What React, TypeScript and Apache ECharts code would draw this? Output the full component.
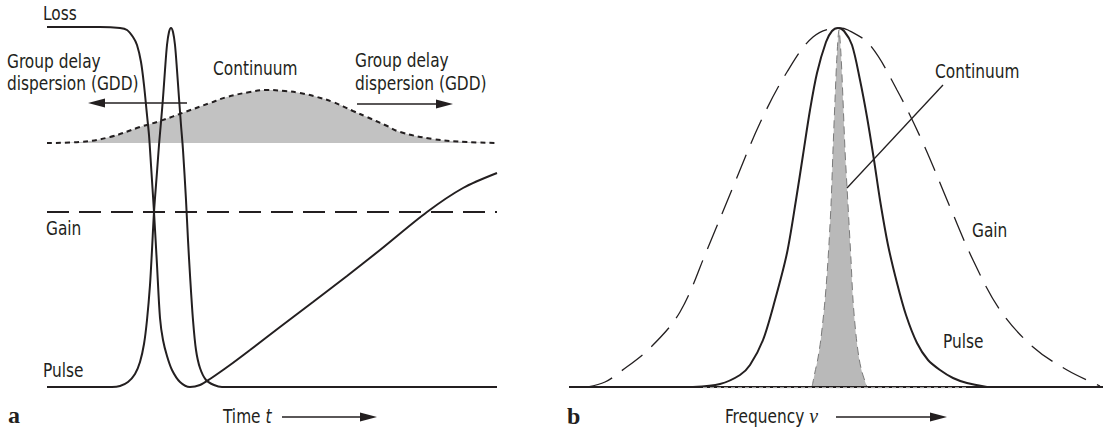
import React, { useEffect, useRef } from "react";
import * as echarts from "echarts";

// ---------- Panel a: time domain (x: time, arb. units; y: amplitude, arb. units) ----------
const lossA: number[][] = [
  [0, 360], [53, 360], [73, 359], [80, 357], [86, 350], [90, 342], [94, 325], [97, 302],
  [100, 272], [102, 252], [104, 222], [107, 175], [110, 122], [113, 69], [116, 47], [120, 31],
  [125, 17], [133, 5], [143, 0], [153, 2], [163, 8], [183, 22], [203, 37], [233, 60],
  [266, 85], [300, 111], [333, 137], [380, 175], [416, 199], [450, 214],
];
const pulseA: number[][] = [
  [0, 0], [65, 0], [73, 1], [81, 5], [88, 13], [93, 25], [97, 43], [100, 67], [103, 102],
  [105, 137], [107, 175], [110, 215], [112, 242], [114, 265], [116, 289], [118, 317],
  [120, 342], [122, 355], [124, 359], [126, 355], [128, 342], [130, 317], [132, 289],
  [134, 262], [136, 237], [139, 187], [141, 147], [143, 112], [146, 67], [149, 37],
  [153, 19], [159, 7], [167, 2], [175, 0], [450, 0],
];
const gainA: number[][] = [[0, 175], [450, 175]];
const continuumBaseA = 244;
const continuumA: number[][] = [
  [0, 244], [33, 245], [63, 250], [93, 260], [113, 266], [138, 275], [163, 284], [180, 290],
  [203, 295], [220, 297], [238, 296], [253, 294], [270, 290], [286, 285], [306, 276],
  [320, 270], [338, 262], [353, 255], [386, 248], [420, 245], [450, 244],
];
// [x1, y1, x2, y2, hasHead]
const arrowsA: number[][] = [
  [140, 284, 41, 284, 1],
  [310, 283, 406, 283, 1],
  [235, -30, 330, -30, 1],
];

// ---------- Panel b: frequency domain ----------
const baselineB: number[][] = [[0, 0], [534, 0]];
const hatchB: number[][] = [[134, -0.8], [399, -0.8]];
const gainB: number[][] = [
  [19, 0], [36, 5], [51, 15], [81, 39], [111, 75], [138, 137], [164, 200], [191, 264],
  [218, 315], [244, 350], [269, 359], [279, 357], [301, 342], [328, 297], [354, 244],
  [381, 180], [404, 127], [431, 77], [464, 40], [498, 17], [531, 1],
];
const pulseB: number[][] = [
  [124, 0], [151, 3], [171, 12], [181, 22], [194, 47], [206, 87], [218, 134], [227, 187],
  [234, 232], [241, 277], [248, 314], [257, 345], [263, 356], [269, 359], [275, 356],
  [283, 342], [291, 307], [298, 270], [305, 227], [311, 187], [319, 142], [328, 104],
  [337, 72], [348, 44], [359, 27], [371, 17], [384, 9], [398, 4], [418, 0],
];
const continuumB: number[][] = [
  [243, 0], [246, 15], [249, 29], [252, 49], [256, 87], [259, 127], [262, 182], [264, 237],
  [266, 287], [268, 332], [270, 357], [272, 332], [274, 287], [276, 237], [279, 182],
  [282, 127], [284, 87], [287, 52], [290, 29], [293, 15], [298, 0],
];
const arrowsB: number[][] = [
  [374, 302, 278, 199, 0],
  [267, -30, 378, -30, 1],
];

const INK = "#231f20";
const FONT = "'DejaVu Sans Condensed', Roboto, sans-serif";
const SERIF = "'Liberation Serif', 'DejaVu Serif', serif";

const renderArrow = (_params: any, api: any) => {
  const a = api.coord([api.value(0), api.value(1)]);
  const b = api.coord([api.value(2), api.value(3)]);
  const head = api.value(4);
  const dx = b[0] - a[0];
  const dy = b[1] - a[1];
  const len = Math.hypot(dx, dy) || 1;
  const ux = dx / len;
  const uy = dy / len;
  const L = 17;
  const W = 4.5;
  const children: any[] = [];
  const ex = head ? b[0] - ux * L * 0.7 : b[0];
  const ey = head ? b[1] - uy * L * 0.7 : b[1];
  children.push({
    type: "line",
    shape: { x1: a[0], y1: a[1], x2: ex, y2: ey },
    style: { stroke: INK, lineWidth: 1.3 },
  });
  if (head) {
    const bx = b[0] - ux * L;
    const by = b[1] - uy * L;
    children.push({
      type: "polygon",
      shape: {
        points: [
          [b[0], b[1]],
          [bx - uy * W, by + ux * W],
          [bx + uy * W, by - ux * W],
        ],
      },
      style: { fill: INK },
    });
  }
  return { type: "group", children };
};

const label = (text: string, x: number, y: number, extra: any = {}, sx = 0.9) => ({
  type: "text",
  x,
  y,
  scaleX: sx,
  style: {
    text,
    fill: INK,
    fontSize: 19,
    fontFamily: FONT,
    align: "left",
    verticalAlign: "middle",
    ...extra,
  },
});

export default function App() {
  const ref = useRef<HTMLDivElement>(null);
  useEffect(() => {
    if (!ref.current) return;
    const chart = echarts.init(ref.current, undefined, { renderer: "svg" });
    const lineBase = {
      type: "line",
      showSymbol: false,
      symbol: "none",
      clip: false,
      silent: true,
    };
    chart.setOption({
      animation: false,
      backgroundColor: "#ffffff",
      grid: [
        { left: 47, top: 27, width: 450, height: 360 },
        { left: 569, top: 27, width: 534, height: 360 },
      ],
      xAxis: [
        { type: "value", gridIndex: 0, min: 0, max: 450, show: false },
        { type: "value", gridIndex: 1, min: 0, max: 534, show: false },
      ],
      yAxis: [
        { type: "value", gridIndex: 0, min: 0, max: 360, show: false },
        { type: "value", gridIndex: 1, min: 0, max: 360, show: false },
      ],
      series: [
        {
          ...lineBase,
          name: "Continuum a",
          xAxisIndex: 0,
          yAxisIndex: 0,
          data: continuumA,
          smooth: 0.4,
          z: 1,
          lineStyle: { color: INK, width: 2, type: [5, 4] },
          areaStyle: { color: "#c2c2c2", opacity: 1, origin: continuumBaseA },
        },
        {
          ...lineBase,
          name: "Gain a",
          xAxisIndex: 0,
          yAxisIndex: 0,
          data: gainA,
          z: 2,
          lineStyle: { color: INK, width: 2, type: [22, 10] },
        },
        {
          ...lineBase,
          name: "Loss",
          xAxisIndex: 0,
          yAxisIndex: 0,
          data: lossA,
          smooth: 0.3,
          z: 3,
          lineStyle: { color: INK, width: 2 },
        },
        {
          ...lineBase,
          name: "Pulse a",
          xAxisIndex: 0,
          yAxisIndex: 0,
          data: pulseA,
          smooth: 0.3,
          z: 3,
          lineStyle: { color: INK, width: 2 },
        },
        {
          type: "custom",
          name: "Arrows a",
          xAxisIndex: 0,
          yAxisIndex: 0,
          data: arrowsA,
          renderItem: renderArrow,
          silent: true,
          z: 4,
        },
        {
          ...lineBase,
          name: "Continuum b",
          xAxisIndex: 1,
          yAxisIndex: 1,
          data: continuumB,
          smooth: 0.3,
          z: 1,
          lineStyle: { color: "#7a7a7a", width: 1, type: [8, 5] },
          areaStyle: { color: "#b9b9b9", opacity: 1, origin: 0 },
        },
        {
          ...lineBase,
          name: "Gain b",
          xAxisIndex: 1,
          yAxisIndex: 1,
          data: gainB,
          smooth: 0.35,
          z: 2,
          lineStyle: { color: INK, width: 1.3, type: [26, 12] },
        },
        {
          ...lineBase,
          name: "Pulse b",
          xAxisIndex: 1,
          yAxisIndex: 1,
          data: pulseB,
          smooth: 0.3,
          z: 3,
          lineStyle: { color: INK, width: 2 },
        },
        {
          ...lineBase,
          name: "Baseline b",
          xAxisIndex: 1,
          yAxisIndex: 1,
          data: baselineB,
          z: 3,
          lineStyle: { color: INK, width: 2 },
        },
        {
          ...lineBase,
          name: "Baseline hatch b",
          xAxisIndex: 1,
          yAxisIndex: 1,
          data: hatchB,
          z: 4,
          lineStyle: { color: "#d8d8d8", width: 1, type: [4, 3] },
        },
        {
          type: "custom",
          name: "Arrows b",
          xAxisIndex: 1,
          yAxisIndex: 1,
          data: arrowsB,
          renderItem: renderArrow,
          silent: true,
          z: 4,
        },
      ],
      graphic: [
        label("Loss", 43, 13),
        label("Group delay", 7, 61),
        label("dispersion (GDD)", 7, 83),
        label("Continuum", 213, 68),
        label("Group delay", 355, 60),
        label("dispersion (GDD)", 355, 83),
        label("Gain", 46, 228),
        label("Pulse", 43, 370),
        label("a", 8, 415, { fontFamily: SERIF, fontWeight: "bold", fontSize: 24 }, 1),
        label("Time {i|t}", 223, 416, {
          rich: { i: { fontFamily: FONT, fontStyle: "italic", fontSize: 19, fill: INK } },
        }),
        label("b", 567, 416, { fontFamily: SERIF, fontWeight: "bold", fontSize: 24 }, 1),
        label("Frequency {n|ν}", 725, 416, {
          rich: { n: { fontFamily: SERIF, fontStyle: "italic", fontSize: 22, fill: INK } },
        }),
        label("Continuum", 935, 71),
        label("Gain", 972, 230),
        label("Pulse", 943, 341),
      ],
    });
    return () => chart.dispose();
  }, []);
  return (
    <div
      ref={ref}
      style={{ position: "fixed", left: 0, top: 0, width: 1105, height: 432, background: "#fff" }}
    />
  );
}
